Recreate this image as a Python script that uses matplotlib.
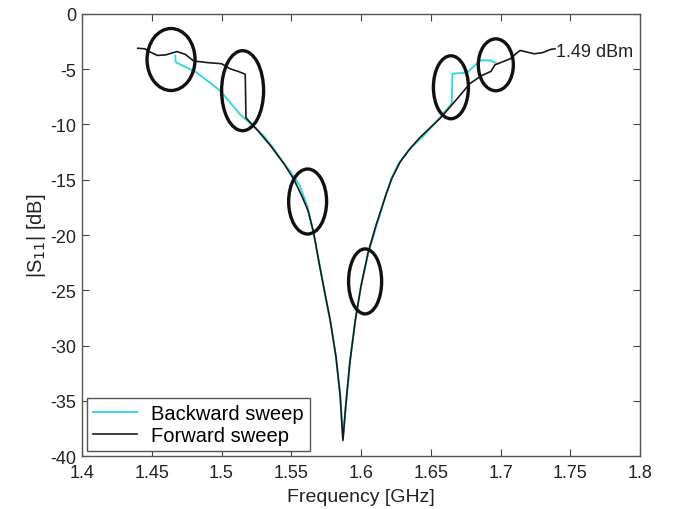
import matplotlib
matplotlib.use("Agg")
import matplotlib.pyplot as plt
from matplotlib.patches import Ellipse

plt.rcParams['font.family'] = ['Liberation Sans', 'DejaVu Sans']
plt.rcParams['axes.unicode_minus'] = False

# Forward sweep (black)
fwd_freq = [1.440, 1.445, 1.449, 1.454, 1.460, 1.468, 1.474, 1.480, 1.490, 1.500,
            1.506, 1.512, 1.517, 1.5175, 1.525, 1.535, 1.545, 1.552, 1.558, 1.562,
            1.566, 1.570, 1.574, 1.578, 1.582, 1.585, 1.587, 1.589, 1.592, 1.596,
            1.600, 1.605, 1.611, 1.618, 1.622, 1.628, 1.635, 1.642, 1.657, 1.668,
            1.678, 1.686, 1.693, 1.696, 1.702, 1.707, 1.711, 1.714, 1.719, 1.724,
            1.730, 1.736, 1.739]
fwd_s11 = [-3.10, -3.15, -3.45, -3.75, -3.70, -3.40, -3.65, -4.25, -4.40, -4.50,
           -4.95, -5.20, -5.45, -9.40, -10.4, -11.9, -13.6, -15.0, -16.6, -17.8,
           -19.8, -22.6, -25.2, -27.8, -31.0, -34.5, -38.6, -35.5, -31.5, -27.6,
           -24.6, -21.6, -19.0, -16.3, -14.9, -13.4, -12.2, -11.2, -9.4, -7.8,
           -6.3, -5.6, -5.2, -4.6, -4.3, -4.05, -3.6, -3.3, -3.45, -3.6,
           -3.5, -3.2, -3.15]

# Backward sweep (cyan)
bwd_freq = [1.697, 1.6925, 1.6855, 1.676, 1.6655, 1.665, 1.657, 1.645, 1.635, 1.627,
            1.622, 1.618, 1.611, 1.6055, 1.600, 1.596, 1.592, 1.589, 1.587, 1.585,
            1.582, 1.578, 1.574, 1.570, 1.566, 1.5615, 1.556, 1.549, 1.544, 1.537,
            1.530, 1.513, 1.499, 1.482, 1.4672, 1.4668]
bwd_s11 = [-4.45, -4.2, -4.2, -5.3, -5.4, -8.1, -9.3, -11.0, -12.2, -13.5,
           -14.8, -16.3, -19.2, -21.5, -24.6, -27.6, -31.5, -35.5, -38.4, -34.5,
           -31.0, -27.8, -25.3, -22.5, -19.8, -17.4, -15.5, -14.2, -13.4, -12.1,
           -11.0, -9.05, -6.94, -5.28, -4.37, -3.77]

# Hysteresis regions marked with ellipses: (center f, center dB, width GHz, height dB)
marks_f = [1.4638, 1.5151, 1.5617, 1.6029, 1.6644, 1.6966]
marks_db = [-4.12, -6.94, -16.97, -24.2, -6.63, -4.6]
marks_w = [0.0344, 0.0301, 0.0272, 0.0237, 0.0251, 0.0251]
marks_h = [5.61, 7.24, 5.88, 5.88, 5.7, 4.7]

power_label = "1.49 dBm"
xticks = [1.4, 1.45, 1.5, 1.55, 1.6, 1.65, 1.7, 1.75, 1.8]
xticklabels = ["1.4", "1.45", "1.5", "1.55", "1.6", "1.65", "1.7", "1.75", "1.8"]
yticks = [0, -5, -10, -15, -20, -25, -30, -35, -40]

fig = plt.figure(figsize=(6.74, 5.10), dpi=100)
ax = fig.add_axes([0.1217, 0.1039, 0.828, 0.8667])

ax.plot(bwd_freq, bwd_s11, color='#3ad8d8', lw=1.4, label='Backward sweep')
ax.plot(fwd_freq, fwd_s11, color='#1a1a1a', lw=1.2, label='Forward sweep')

for f, d, w, h in zip(marks_f, marks_db, marks_w, marks_h):
    ax.add_patch(Ellipse((f, d), w, h, fill=False, edgecolor='#111111', lw=2.4, zorder=5))

ax.text(fwd_freq[-1] + 0.0005, -3.4, power_label, fontsize=13, color='#222222',
        ha='left', va='center')

ax.set_xlim(1.4, 1.8)
ax.set_ylim(-40, 0)
ax.set_xticks(xticks)
ax.set_xticklabels(xticklabels)
ax.set_yticks(yticks)
ax.tick_params(direction='in', length=5, width=0.8, top=True, right=True,
               labelsize=13, colors='#444444', labelcolor='#222222')
ax.tick_params(axis='x', pad=6)
ax.tick_params(axis='y', pad=4)
for s in ax.spines.values():
    s.set_color('#555555')
    s.set_linewidth(1.0)

ax.set_xlabel("Frequency [GHz]", fontsize=14, color='#222222', labelpad=5)
ax.set_ylabel("|S$_{11}$| [dB]", fontsize=14.5, color='#222222', labelpad=2)

leg = ax.legend(loc='lower left', bbox_to_anchor=(0.009, 0.011), borderaxespad=0,
                fontsize=14.5, fancybox=False, framealpha=1, edgecolor='#555555',
                handlelength=2.2, borderpad=0.3, labelspacing=0.15, handletextpad=0.7)
leg.get_frame().set_linewidth(1.0)

fig.savefig("out.png", dpi=100)
